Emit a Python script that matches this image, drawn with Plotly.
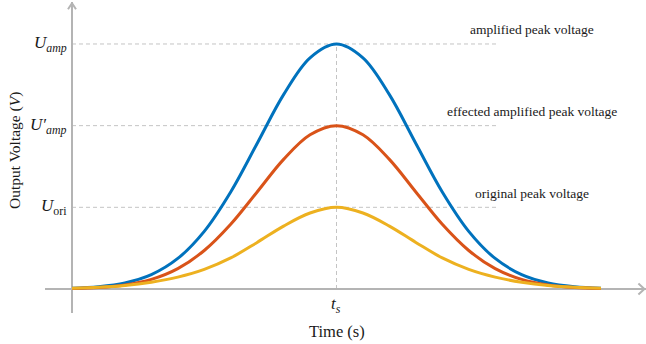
import plotly.graph_objects as go

# ---- data ----
time = [0, 0.5, 1, 1.5, 2, 2.5, 3, 3.5, 4, 4.5, 5, 5.5, 6, 6.5, 7, 7.5, 8, 8.5, 9, 9.5, 10]
amplified = [0.009, 0.028, 0.074, 0.176, 0.374, 0.706, 1.188, 1.782, 2.380, 2.831, 3.000,
             2.831, 2.380, 1.782, 1.188, 0.706, 0.374, 0.176, 0.074, 0.028, 0.009]
effected = [0.006, 0.018, 0.049, 0.117, 0.249, 0.471, 0.792, 1.188, 1.587, 1.888, 2.000,
            1.888, 1.587, 1.188, 0.792, 0.471, 0.249, 0.117, 0.049, 0.018, 0.006]
original = [0.008, 0.020, 0.042, 0.083, 0.145, 0.240, 0.380, 0.570, 0.770, 0.930, 1.000,
            0.930, 0.770, 0.570, 0.380, 0.240, 0.145, 0.083, 0.042, 0.020, 0.008]

peak_time = 5
level_values = [3, 2, 1]
level_ticks = ["<i>U</i><sub><i>amp</i></sub>",
               "<i>U′</i><sub><i>amp</i></sub>",
               "<i>U</i><sub>ori</sub>"]
level_notes = ["amplified peak voltage",
               "effected amplified peak voltage",
               "original peak voltage"]
time_tick = "<i>t</i><sub><i>s</i></sub>"

colors = ["#0072BD", "#D95319", "#EDB120"]
SERIF = "Liberation Serif"
AXIS_GRAY = "#B4B4B4"
DASH_GRAY = "#C4C4C4"
TEXT = "#1a1a1a"

fig = go.Figure()
for ys, c, name in [(amplified, colors[0], "amplified"),
                    (effected, colors[1], "effected"),
                    (original, colors[2], "original")]:
    fig.add_trace(go.Scatter(x=time, y=ys, mode="lines", name=name,
                             line=dict(color=c, width=3, shape="spline"),
                             hoverinfo="skip"))

# figure geometry (pixels)
W, H = 646, 344
ML, MR, MT, MB = 45, 0, 2, 31
PW, PH = W - ML - MR, H - MT - MB

x_min, x_max = -0.5104, 10.851
y_min, y_max = -0.2939, 3.514


def px_to_paper(px, py):
    return (px - ML) / PW, (H - MB - py) / PH


shapes = []
annotations = []
dash_end = 8.02
for v, tick, note in zip(level_values, level_ticks, level_notes):
    shapes.append(dict(type="line", xref="x", yref="y", x0=0, x1=dash_end, y0=v, y1=v,
                       line=dict(color=DASH_GRAY, width=1, dash="4px,3px"), layer="below"))
    annotations.append(dict(x=0, y=v, xref="x", yref="y", text=tick, showarrow=False,
                            xanchor="right", yanchor="middle", xshift=-3,
                            font=dict(family=SERIF, size=17, color=TEXT)))
    annotations.append(dict(x=8.70, y=v, xref="x", yref="y", text=note, showarrow=False,
                            xanchor="center", yanchor="middle", yshift=14,
                            font=dict(family=SERIF, size=13.5, color=TEXT)))

shapes.append(dict(type="line", xref="x", yref="y", x0=peak_time, x1=peak_time,
                   y0=0, y1=max(amplified),
                   line=dict(color=DASH_GRAY, width=1, dash="4px,3px"), layer="below"))
annotations.append(dict(x=peak_time, y=0, xref="x", yref="y", text=time_tick, showarrow=False,
                        xanchor="center", yanchor="top", yshift=-3,
                        font=dict(family=SERIF, size=17, color=TEXT)))

# arrow heads on the axes
shapes.append(dict(type="path", xref="x", yref="y", xsizemode="pixel", ysizemode="pixel",
                   xanchor=x_max - 0.03, yanchor=0, path="M-6,-5.5 L0,0 L-6,5.5",
                   line=dict(color=AXIS_GRAY, width=2)))
shapes.append(dict(type="path", xref="x", yref="y", xsizemode="pixel", ysizemode="pixel",
                   xanchor=0, yanchor=y_max - 0.015, path="M-4,-6 L0,0 L4,-6",
                   line=dict(color=AXIS_GRAY, width=2)))

# axis titles
tx, ty = px_to_paper(337, 331)
annotations.append(dict(x=tx, y=ty, xref="paper", yref="paper",
                        text="Time (s)", showarrow=False, xanchor="center", yanchor="middle",
                        font=dict(family=SERIF, size=16.5, color=TEXT)))
vx, vy = px_to_paper(15, 151)
annotations.append(dict(x=vx, y=vy, xref="paper", yref="paper",
                        text="Output Voltage (<i>V</i>)", showarrow=False, textangle=-90,
                        xanchor="center", yanchor="middle",
                        font=dict(family=SERIF, size=15.5, color=TEXT)))

fig.update_layout(
    width=W, height=H,
    margin=dict(l=ML, r=MR, t=MT, b=MB),
    paper_bgcolor="white", plot_bgcolor="white",
    showlegend=False,
    shapes=shapes, annotations=annotations,
    xaxis=dict(range=[x_min, x_max], showgrid=False, showticklabels=False, ticks="",
               zeroline=True, zerolinecolor=AXIS_GRAY, zerolinewidth=2, showline=False),
    yaxis=dict(range=[y_min, y_max], showgrid=False, showticklabels=False, ticks="",
               zeroline=True, zerolinecolor=AXIS_GRAY, zerolinewidth=2, showline=False),
)

fig.write_html("out.html")
